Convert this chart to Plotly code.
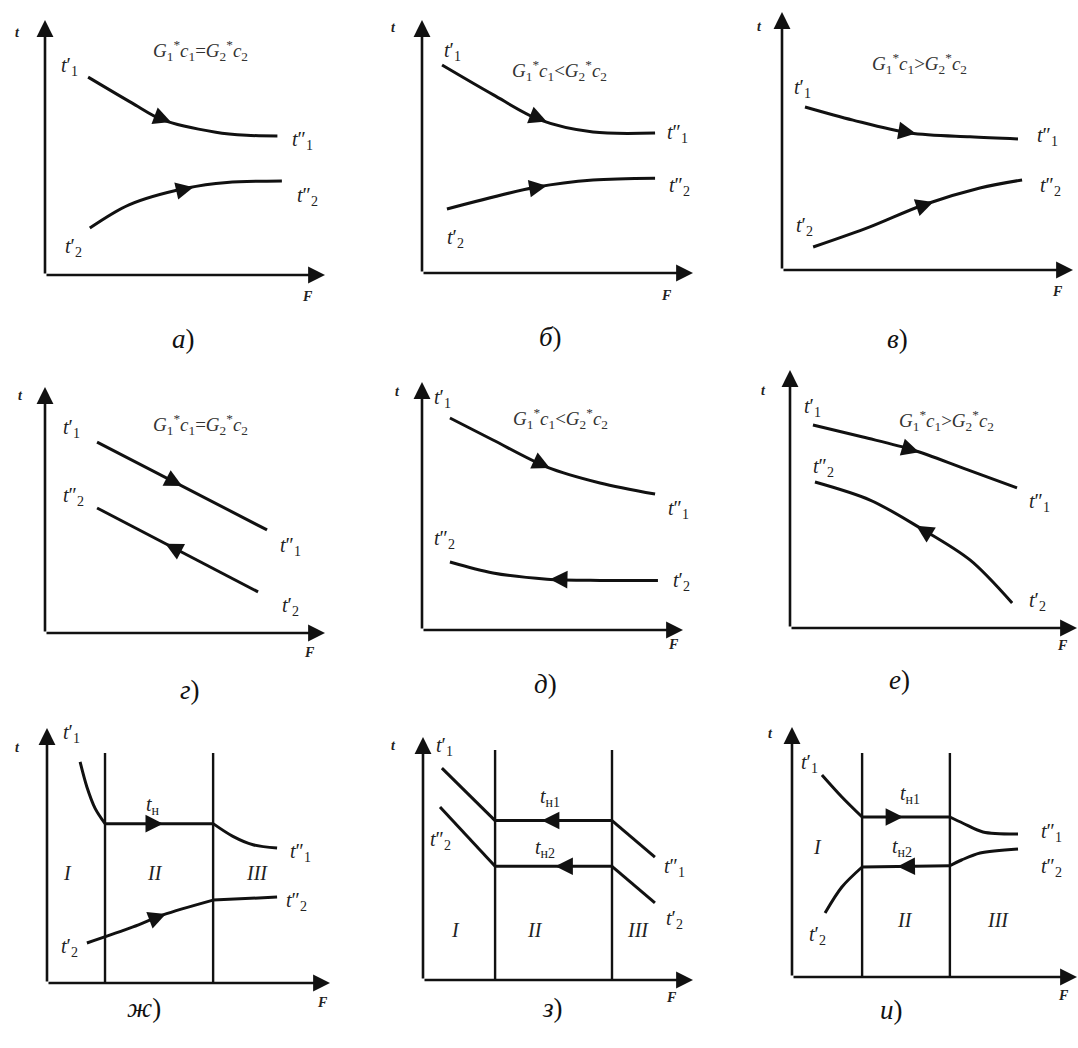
import numpy as np
import plotly.graph_objects as go

W, H = 1078, 1048

# ---------------- data (F, t in relative units 0..10 on each panel) ----------------
# а) parallel flow
a_t1_F = [1.54, 3.1, 4.2, 6.1, 7.2, 8.3]
a_t1_t = [7.76, 6.75, 6.08, 5.6, 5.48, 5.45]
a_t2_F = [1.6, 3.0, 5.07, 6.5, 8.46]
a_t2_t = [1.84, 2.75, 3.41, 3.63, 3.69]
# б)
b_t1_F = [0.74, 2.62, 4.35, 6.31, 8.6]
b_t1_t = [8.22, 7.05, 6.05, 5.57, 5.53]
b_t2_F = [0.92, 4.24, 6.31, 8.6]
b_t2_t = [2.53, 3.4, 3.68, 3.75]
# в)
v_t1_F = [0.79, 2.44, 4.4, 6.46, 8.11]
v_t1_t = [6.32, 5.81, 5.31, 5.16, 5.08]
v_t2_F = [1.07, 3.02, 4.85, 6.8, 8.25]
v_t2_t = [0.89, 1.67, 2.52, 3.18, 3.49]
# г) counter flow, equal water equivalents
g_t1_F = [1.86, 7.93]
g_t1_t = [7.76, 4.19]
g_t2_F = [1.86, 7.61]
g_t2_t = [5.08, 1.67]
# д)
d_t1_F = [1.07, 2.72, 4.79, 6.82, 8.93]
d_t1_t = [8.55, 7.66, 6.57, 5.93, 5.48]
d_t2_F = [1.07, 2.72, 4.79, 6.82, 9.04]
d_t2_t = [2.74, 2.3, 2.05, 2.0, 2.0]
# е)
e_t1_F = [0.8, 2.54, 4.29, 6.03, 7.91]
e_t1_t = [7.87, 7.4, 6.9, 6.2, 5.43]
e_t2_F = [0.87, 2.79, 4.53, 6.27, 7.74]
e_t2_t = [5.66, 4.96, 3.88, 2.64, 0.97]
# ж) condensation of hot fluid
zh_zones = [2.05, 5.87]
zh_t1_F = [1.17, 1.41, 1.7, 2.05, 5.87, 6.57, 7.28, 8.13]
zh_t1_t = [8.67, 7.69, 6.85, 6.25, 6.25, 5.75, 5.42, 5.29]
zh_t2_F = [1.41, 3.04, 4.1, 5.87, 8.13]
zh_t2_t = [1.57, 2.2, 2.67, 3.25, 3.37]
# з) two phase changes, counter flow
z_zones = [2.67, 7.0]
z_t1_F = [0.7, 2.67, 7.0, 8.59]
z_t1_t = [8.72, 6.56, 6.56, 5.06]
z_t2_F = [0.63, 2.67, 7.0, 8.59]
z_t2_t = [7.12, 4.68, 4.68, 3.17]
# и) two phase changes, parallel flow
i_zones = [2.46, 5.54]
i_t1_F = [1.05, 1.75, 2.46, 5.54, 6.0, 6.7, 7.93]
i_t1_t = [8.08, 7.2, 6.4, 6.4, 6.15, 5.8, 5.72]
i_t2_F = [1.16, 1.75, 2.46, 5.54, 5.95, 6.6, 7.93]
i_t2_t = [2.56, 3.6, 4.4, 4.45, 4.68, 4.96, 5.12]

captions = ["а", "б", "в", "г", "д", "е", "ж", "з", "и"]
relations = ["=", "&lt;", "&gt;", "=", "&lt;", "&gt;"]

# ---------------- layout helpers ----------------
SERIF = "Liberation Serif, Times New Roman, serif"
X_LO, Y_LO = -1.4, -1.1   # extra room left/below the origin for the axis names


def tl(p, s):
    return f"<i>t</i>{p}<sub>{s}</sub>"


def formula(rel):
    return (f"<i>G</i><sub>1</sub><sup>*</sup><i>c</i><sub>1</sub>{rel}"
            f"<i>G</i><sub>2</sub><sup>*</sup><i>c</i><sub>2</sub>")


P1, P2 = "′", "″"

panels = [
    dict(box=(45, 275, 325, 20), cap=(170, 322),
         curves=[(a_t1_F, a_t1_t, "spline"), (a_t2_F, a_t2_t, "spline")],
         arrows=[(0, 4.5, 1), (1, 5.3, 1)], zones=[],
         labels=[(tl(P1, 1), 0.89, 8.16), (tl(P2, 1), 9.18, 5.29),
                 (tl(P2, 2), 9.39, 3.06), (tl(P1, 2), 1.0, 1.06)],
         form=(0, 5.54, 8.82), tlab=(-1.0, 9.49), flab=(9.36, -0.86)),
    dict(box=(422, 273, 693, 20), cap=(550, 320),
         curves=[(b_t1_F, b_t1_t, "spline"), (b_t2_F, b_t2_t, "spline")],
         arrows=[(0, 4.6, 1), (1, 4.6, 1)], zones=[],
         labels=[(tl(P1, 1), 1.14, 8.74), (tl(P2, 1), 9.41, 5.53),
                 (tl(P2, 2), 9.52, 3.4), (tl(P1, 2), 1.22, 1.38)],
         form=(1, 5.09, 8.02), tlab=(-1.07, 9.72), flab=(9.04, -0.87)),
    dict(box=(782, 270, 1073, 12), cap=(910, 322),
         curves=[(v_t1_F, v_t1_t, "spline"), (v_t2_F, v_t2_t, "spline")],
         arrows=[(0, 4.6, 1), (1, 5.2, 1)], zones=[],
         labels=[(tl(P1, 1), 0.69, 7.05), (tl(P2, 1), 9.14, 5.16),
                 (tl(P2, 2), 9.21, 3.22), (tl(P1, 2), 0.79, 1.67)],
         form=(2, 4.74, 8.02), tlab=(-0.76, 9.42), flab=(9.45, -0.85)),
    dict(box=(45, 633, 325, 387), cap=(178, 690),
         curves=[(g_t1_F, g_t1_t, "linear"), (g_t2_F, g_t2_t, "linear")],
         arrows=[(0, 4.9, 1), (1, 4.3, -1)], zones=[],
         labels=[(tl(P1, 1), 0.96, 8.33), (tl(P2, 1), 8.75, 3.5),
                 (tl(P2, 2), 1.0, 5.53), (tl(P1, 2), 8.75, 1.06)],
         form=(3, 5.54, 8.46), tlab=(-0.89, 9.67), flab=(9.46, -0.81)),
    dict(box=(422, 630, 683, 382), cap=(545, 684),
         curves=[(d_t1_F, d_t1_t, "spline"), (d_t2_F, d_t2_t, "spline")],
         arrows=[(0, 4.9, 1), (1, 4.9, -1)], zones=[],
         labels=[(tl(P1, 1), 0.8, 9.35), (tl(P2, 1), 9.81, 4.84),
                 (tl(P2, 2), 0.88, 3.63), (tl(P1, 2), 9.95, 1.94)],
         form=(4, 5.29, 8.51), tlab=(-0.92, 9.6), flab=(9.62, -0.6)),
    dict(box=(790, 628, 1077, 370), cap=(912, 680),
         curves=[(e_t1_F, e_t1_t, "spline"), (e_t2_F, e_t2_t, "spline")],
         arrows=[(0, 4.5, 1), (1, 4.4, -1)], zones=[],
         labels=[(tl(P1, 1), 0.77, 8.53), (tl(P2, 1), 8.71, 4.88),
                 (tl(P2, 2), 1.15, 6.24), (tl(P1, 2), 8.64, 1.01)],
         form=(5, 5.47, 8.05), tlab=(-0.94, 9.22), flab=(9.51, -0.66)),
    dict(box=(47, 983, 330, 728), cap=(125, 1025),
         curves=[(zh_t1_F, zh_t1_t, "spline"), (zh_t2_F, zh_t2_t, "spline")],
         arrows=[(0, 4.1, 1), (1, 4.2, 1)], zones=zh_zones, ztop=9.02,
         labels=[(tl(P1, 1), 0.88, 9.8), (tl(P2, 1), 8.94, 5.1),
                 (tl(P2, 2), 8.83, 3.18), (tl(P1, 2), 0.81, 1.41),
                 ("<i>t</i><sub>н</sub>", 3.75, 6.95),
                 ("<i>I</i>", 0.74, 4.31), ("<i>II</i>", 3.82, 4.31), ("<i>III</i>", 7.42, 4.31)],
         form=None, tlab=(-1.06, 9.25), flab=(9.72, -0.75)),
    dict(box=(423, 980, 693, 737), cap=(552, 1025),
         curves=[(z_t1_F, z_t1_t, "linear"), (z_t2_F, z_t2_t, "linear")],
         arrows=[(0, 4.4, -1), (1, 4.9, -1)], zones=z_zones, ztop=9.47,
         labels=[(tl(P1, 1), 0.81, 9.59), (tl(P2, 1), 9.33, 4.65),
                 (tl(P2, 2), 0.63, 5.76), (tl(P1, 2), 9.33, 2.47),
                 ("<i>t</i><sub>н1</sub>", 4.7, 7.5), ("<i>t</i><sub>н2</sub>", 4.52, 5.4),
                 ("<i>I</i>", 1.19, 2.06), ("<i>II</i>", 4.15, 2.06), ("<i>III</i>", 7.96, 2.06)],
         form=None, tlab=(-1.11, 9.67), flab=(9.22, -0.74)),
    dict(box=(792, 977, 1077, 727), cap=(905, 1027),
         curves=[(i_t1_F, i_t1_t, "spline"), (i_t2_F, i_t2_t, "spline")],
         arrows=[(0, 3.9, 1), (1, 3.7, -1)], zones=i_zones, ztop=8.96,
         labels=[(tl(P1, 1), 0.63, 8.56), (tl(P2, 1), 9.12, 5.8),
                 (tl(P2, 2), 9.12, 4.4), (tl(P1, 2), 0.88, 1.68),
                 ("<i>t</i><sub>н1</sub>", 4.14, 7.3), ("<i>t</i><sub>н2</sub>", 3.86, 5.2),
                 ("<i>I</i>", 0.88, 5.2), ("<i>II</i>", 3.96, 2.28), ("<i>III</i>", 7.23, 2.28)],
         form=None, tlab=(-0.77, 9.76), flab=(9.51, -0.72)),
]

fig = go.Figure()
annotations = []
layout_axes = {}

for i, p in enumerate(panels):
    n = "" if i == 0 else str(i + 1)
    xr, yr = "x" + n, "y" + n
    ox, oy, xt, yt = p["box"]
    w, h = xt - ox, oy - yt
    x0 = ox + X_LO / 10 * w
    y0 = oy - Y_LO / 10 * h
    layout_axes["xaxis" + n] = dict(domain=[x0 / W, xt / W], range=[X_LO, 10], visible=False,
                                    anchor=yr, fixedrange=True)
    layout_axes["yaxis" + n] = dict(domain=[1 - y0 / H, 1 - yt / H], range=[Y_LO, 10], visible=False,
                                    anchor=xr, fixedrange=True)

    # zone dividers
    for zx in p["zones"]:
        fig.add_trace(go.Scatter(x=[zx, zx], y=[0, p["ztop"]], mode="lines",
                                 line=dict(color="#111", width=2.4), xaxis=xr, yaxis=yr,
                                 hoverinfo="skip", cliponaxis=False))

    # curves (split at zone boundaries)
    for F, T, shape in p["curves"]:
        F = list(F); T = list(T)
        cuts = [k for k, f in enumerate(F) if f in p["zones"]]
        bounds = [0] + cuts + [len(F) - 1]
        segs = [(bounds[j], bounds[j + 1]) for j in range(len(bounds) - 1) if bounds[j + 1] > bounds[j]]
        for s0, s1 in segs:
            fig.add_trace(go.Scatter(x=F[s0:s1 + 1], y=T[s0:s1 + 1], mode="lines",
                                     line=dict(color="#111", width=3, shape=shape, smoothing=0.9),
                                     xaxis=xr, yaxis=yr, hoverinfo="skip", cliponaxis=False))

    # direction arrows on curves
    for ci, fh, dr in p["arrows"]:
        F, T, _ = p["curves"][ci]
        ftail = fh - dr * 0.55
        annotations.append(dict(x=fh, y=float(np.interp(fh, F, T)), xref=xr, yref=yr,
                                ax=ftail, ay=float(np.interp(ftail, F, T)), axref=xr, ayref=yr,
                                text="", showarrow=True, arrowhead=2, arrowsize=1.35,
                                arrowwidth=2.6, arrowcolor="#111", standoff=0, startstandoff=0))

    # coordinate axes with arrows
    annotations.append(dict(x=10, y=0, ax=0, ay=0, xref=xr, yref=yr, axref=xr, ayref=yr,
                            text="", showarrow=True, arrowhead=2, arrowsize=1.3,
                            arrowwidth=2.6, arrowcolor="#111", standoff=0))
    annotations.append(dict(x=0, y=10, ax=0, ay=0, xref=xr, yref=yr, axref=xr, ayref=yr,
                            text="", showarrow=True, arrowhead=2, arrowsize=1.3,
                            arrowwidth=2.6, arrowcolor="#111", standoff=0))

    # axis names
    annotations.append(dict(x=p["tlab"][0], y=p["tlab"][1], xref=xr, yref=yr, text="<b><i>t</i></b>",
                            showarrow=False, font=dict(family=SERIF, size=14, color="#222")))
    annotations.append(dict(x=p["flab"][0], y=p["flab"][1], xref=xr, yref=yr, text="<b><i>F</i></b>",
                            showarrow=False, font=dict(family=SERIF, size=14, color="#222")))

    # point labels
    for txt, lx, ly in p["labels"]:
        annotations.append(dict(x=lx, y=ly, xref=xr, yref=yr, text=txt, showarrow=False,
                                font=dict(family=SERIF, size=20, color="#222")))

    # formula
    if p["form"] is not None:
        ri, fx, fy = p["form"]
        annotations.append(dict(x=fx, y=fy, xref=xr, yref=yr, text=formula(relations[ri]),
                                showarrow=False, font=dict(family=SERIF, size=19, color="#333")))

    # caption
    cx, cy = p["cap"]
    annotations.append(dict(x=cx / W, y=1 - cy / H, xref="paper", yref="paper",
                            text=f"<i>{captions[i]}</i>)", showarrow=False,
                            font=dict(family=SERIF, size=27, color="#111")))

fig.update_layout(width=W, height=H, margin=dict(l=0, r=0, t=0, b=0),
                  paper_bgcolor="white", plot_bgcolor="white", showlegend=False,
                  annotations=annotations, **layout_axes)

fig.write_html("out.html", config={"displayModeBar": False},
               post_script="document.body.style.margin='0px';document.body.style.overflow='hidden';")
